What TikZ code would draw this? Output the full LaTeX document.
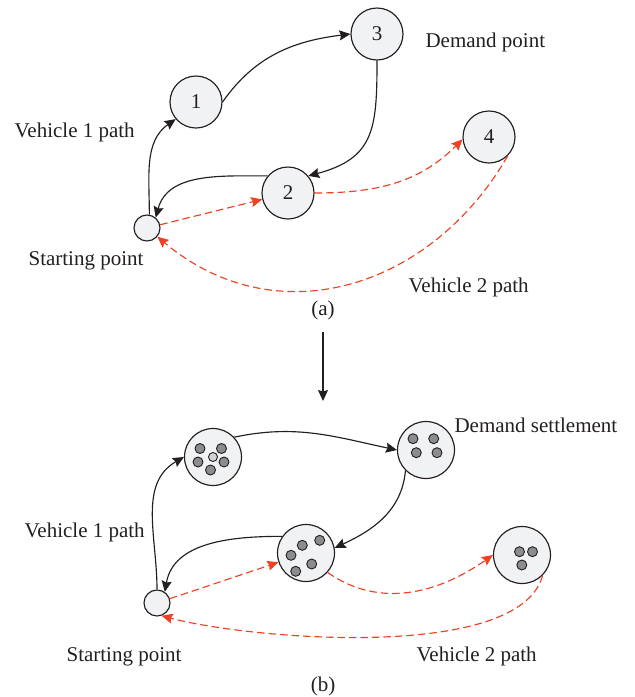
\documentclass[tikz,border=0pt]{standalone}
\usepackage{fontspec}
\setmainfont{Liberation Serif}
\usepackage{xcolor}
\usepackage{tikz}
\usetikzlibrary{arrows.meta}

\definecolor{nodefill}{RGB}{241,242,244}
\definecolor{ink}{RGB}{35,31,32}
\definecolor{route}{RGB}{239,65,35}
\definecolor{dotgray}{RGB}{138,140,142}
\definecolor{dotlight}{RGB}{209,211,212}

\begin{document}
\begin{tikzpicture}[x=1pt, y=-1pt, line width=1.15pt,
    txt/.style={font=\fontsize{21}{25}\selectfont, text=ink, inner sep=0pt},
    demand/.style={circle, draw=ink, fill=nodefill, minimum size=52pt, inner sep=0pt, txt},
    cluster/.style={circle, draw=ink, fill=nodefill, minimum size=57pt, inner sep=0pt},
    depot/.style={circle, draw=ink, fill=nodefill, minimum size=26pt, inner sep=0pt},
    path1/.style={draw=ink, -{Stealth[length=11pt, width=10pt, inset=1.5pt]}},
    path2/.style={draw=route, dash pattern=on 7.5pt off 4pt, -{Stealth[length=11pt, width=10pt, inset=1.5pt]}},
    person/.style={draw=ink, fill=dotgray, line width=0.9pt}]
    \useasboundingbox (0, 0) rectangle (635, 697);

    \node [depot] (S) at (147, 228) {};
    \node [demand] (P1) at (196, 102) {1};
    \node [demand] (P3) at (377, 34) {3};
    \node [demand] (P2) at (288, 193) {2};
    \node [demand] (P4) at (489, 137) {4};
    \node [txt, anchor=base west] (dp) at (425, 47) {Demand point};
    \node [txt, anchor=base west] (v1a) at (14, 137) {Vehicle 1 path};
    \node [txt, anchor=base west] (spa) at (28, 265) {Starting point};
    \node [txt, anchor=base west] (v2a) at (408, 292) {Vehicle 2 path};
    \node [txt] (capa) at (323, 310) {(a)};
    \draw [path1] (S.80) to [out=90, in=215] (P1.220);
    \draw [path1] (P1.0) to [out=55, in=187] (P3.180);
    \draw [path1] (P3.270) to [out=270, in=15, looseness=1.3] (P2.40);
    \draw [path1] (P2.140) to [out=180, in=75] (S.50);
    \draw [path2] (S) -- (P2);
    \draw [path2] (P2.0) to [out=0, in=225] (P4.185);
    \draw [path2] (P4.315) to [out=240, in=320, looseness=1.1] (S.320);

    \coordinate (up) at (323, 332);
    \coordinate (down) at (323, 401);
    \draw [path1] (up) -- (down);

    \node [depot] (T) at (157, 603) {};
    \node [cluster] (Q1) at (213, 457) {};
    \node [cluster] (Q3) at (426, 450) {};
    \node [cluster] (Q2) at (306, 553) {};
    \node [cluster] (Q4) at (522, 555) {};
    \node [txt, anchor=base west] (ds) at (454, 432) {Demand settlement};
    \node [txt, anchor=base west] (v1b) at (24, 537) {Vehicle 1 path};
    \node [txt, anchor=base west] (spb) at (66, 661) {Starting point};
    \node [txt, anchor=base west] (v2b) at (416, 661) {Vehicle 2 path};
    \node [txt] (capb) at (323, 686) {(b)};
    \draw [person, fill=dotlight] (Q1) circle [radius=4.5];
    \draw [person] (Q1) ++(-13, -8.5) circle [radius=5];
    \draw [person] (Q1) ++(8.5, -8.5) circle [radius=5];
    \draw [person] (Q1) ++(-15, 5) circle [radius=5];
    \draw [person] (Q1) ++(11, 5) circle [radius=5];
    \draw [person] (Q1) ++(-2.5, 13) circle [radius=5];
    \draw [person] (Q3) ++(-13, -11.3) circle [radius=5];
    \draw [person] (Q3) ++(7.7, -11.3) circle [radius=5];
    \draw [person] (Q3) ++(-9.7, 2.7) circle [radius=5];
    \draw [person] (Q3) ++(11, 2.7) circle [radius=5];
    \draw [person] (Q2) ++(-3.7, -7.7) circle [radius=5];
    \draw [person] (Q2) ++(13.7, -12.7) circle [radius=5];
    \draw [person] (Q2) ++(-15, 2.3) circle [radius=5];
    \draw [person] (Q2) ++(5.7, 11) circle [radius=5];
    \draw [person] (Q2) ++(-10.3, 18.3) circle [radius=5];
    \draw [person] (Q4) ++(-2.5, -3.3) circle [radius=5];
    \draw [person] (Q4) ++(10.5, -3.3) circle [radius=5];
    \draw [person] (Q4) ++(-0.2, 10) circle [radius=5];
    \draw [path1] (T.90) to [out=90, in=210] (Q1.180);
    \draw [path1] (Q1.43) to [out=12, in=168] (Q3.180);
    \draw [path1] (Q3.225) to [out=265, in=25] (Q2.10);
    \draw [path1] (Q2.145) to [out=180, in=80] (T.55);
    \draw [path2] (T) -- (Q2);
    \draw [path2] (Q2.318) to [out=-35, in=215] (Q4.180);
    \draw [path2] (Q4.315) to [out=255, in=-15, looseness=0.6] (T.290);

\end{tikzpicture}
\end{document}
